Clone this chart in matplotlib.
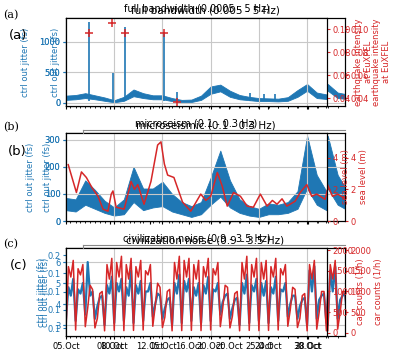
import numpy as np
import pandas as pd
import matplotlib
matplotlib.use("Agg")
import matplotlib.pyplot as plt
import matplotlib.dates as mdates
from matplotlib.lines import Line2D

W, H = 399, 358
BLUE = "#1f77b4"
RED = "#d62728"
start = pd.Timestamp("2017-10-05")

# ---------------- (a) full bandwidth ----------------
# daily envelope of ctrl out jitter (fs), 05.Oct .. 02.Nov
a_lo = [50, 60, 80, 60, 35, 10, 35, 110, 80, 60, 60, 30, 15, 15, 50,
        150, 190, 100, 60, 45, 30, 30, 25, 35, 100, 200, 80, 65, 70]
a_hi = [120, 130, 160, 125, 90, 45, 100, 220, 160, 125, 125, 80, 50, 55, 120,
        270, 300, 200, 130, 100, 80, 75, 70, 95, 210, 310, 170, 140, 150]
a_spike_day = [2.42, 4.9, 6.13, 10.15, 11.5, 19.1, 20.5, 21.7]
a_spike_fs = [1330, 490, 1250, 1160, 180, 170, 150, 140]
quake_day = [2.42, 4.75, 6.13, 10.15, 11.5]
quake_int = [0.0965, 0.106, 0.0965, 0.0965, 0.0365]

# ---------------- (b) microseism ----------------
b_lo = [40, 35, 60, 45, 30, 20, 25, 70, 40, 50, 55, 35, 25, 15, 25,
        60, 90, 50, 30, 20, 15, 25, 25, 30, 45, 120, 60, 40, 45]
b_hi = [85, 80, 150, 115, 75, 50, 80, 200, 120, 120, 145, 100, 70, 55, 70,
        160, 260, 150, 80, 55, 45, 65, 60, 70, 110, 315, 170, 110, 120]
sea_day = [0.23, 1.08, 1.6, 2.11, 2.7, 3.32, 3.84, 4.35, 4.69, 4.87, 5.2, 6.03,
           6.75, 7.1, 7.44, 8.09, 8.81, 9.5, 9.85, 10.2, 10.54, 11.19, 12.08,
           12.94, 13.97, 14.5, 15.0, 15.69, 16.2, 16.72, 17.37, 18.09, 18.78,
           19.43, 20.15, 20.85, 21.4, 21.88, 22.4, 22.9, 23.76, 24.28, 24.97,
           25.48, 26.0, 26.86, 27.3, 27.8, 28.3]
sea_m = [3.56, 1.8, 3.1, 2.75, 2.1, 1.56, 0.75, 0.62, 1.7, 1.9, 0.87, 0.75,
         2.5, 2.0, 2.3, 1.06, 2.5, 4.8, 5.0, 3.6, 2.9, 2.75, 1.2,
         0.62, 1.7, 1.3, 1.56, 3.06, 2.2, 0.94, 1.8, 1.56, 0.94,
         0.87, 1.7, 0.94, 1.3, 1.06, 1.4, 0.94, 1.25, 1.8, 2.3,
         1.56, 1.7, 1.37, 2.4, 1.5, 1.7]

# ---------------- (c) civilization noise ----------------
# 6-hourly samples per day: 00h, 06h, 12h, 18h
c_jitter = [
    [3.3, 4.8, 4.4, 5.2], [3.2, 4.7, 4.5, 5.0], [3.5, 6.0, 4.4, 4.6], [3.3, 3.9, 4.3, 4.4],
    [3.0, 4.9, 4.5, 5.3], [3.1, 5.0, 4.6, 5.2], [3.2, 4.8, 4.4, 5.6], [3.1, 4.9, 4.5, 5.1],
    [3.2, 4.6, 4.6, 5.0], [3.4, 4.0, 4.5, 4.4], [3.3, 3.8, 4.2, 4.3], [3.0, 5.0, 4.5, 5.4],
    [3.1, 5.1, 4.6, 5.2], [3.2, 4.8, 4.4, 5.0], [3.1, 4.9, 4.5, 5.3], [3.2, 4.7, 4.6, 5.0],
    [3.5, 4.1, 4.4, 4.5], [3.3, 3.8, 4.2, 4.3], [3.0, 5.0, 4.5, 5.4], [3.1, 4.9, 4.6, 5.2],
    [3.2, 5.0, 4.4, 5.1], [3.1, 4.8, 4.5, 5.3], [3.2, 4.7, 4.6, 5.0], [3.4, 4.0, 4.4, 4.4],
    [3.3, 3.9, 4.2, 4.3], [3.0, 5.6, 4.6, 5.8], [3.3, 4.2, 4.4, 4.5], [3.1, 5.0, 4.6, 5.7],
    [3.2, 4.8, 4.5, 5.2]]
c_cars = [
    [60, 1600, 1350, 1750], [70, 1550, 1400, 1650], [150, 600, 1150, 1050], [120, 350, 950, 1000],
    [50, 1650, 1300, 1800], [60, 1700, 1350, 1850], [55, 1650, 1300, 1800], [60, 1600, 1350, 1750],
    [70, 1500, 1400, 1650], [160, 650, 1200, 1100], [130, 380, 1000, 1050], [50, 1700, 1300, 1850],
    [55, 1750, 1350, 1800], [60, 1650, 1300, 1750], [55, 1600, 1350, 1800], [70, 1550, 1400, 1700],
    [150, 600, 1150, 1100], [120, 400, 950, 1000], [50, 1700, 1300, 1850], [60, 1650, 1350, 1800],
    [55, 1700, 1300, 1750], [60, 1600, 1350, 1800], [70, 1550, 1400, 1650], [160, 550, 1100, 1050],
    [130, 350, 900, 950], [50, 1650, 1300, 1750], [90, 500, 1000, 1000], [50, 1700, 1350, 1800],
    [60, 1600, 1350, 1700]]

# two overlapping renderings of the same figure
LAYERS = {
    "outer": dict(x=(66, 345), xlim=("2017-10-03 13:26", "2017-10-31 17:45"),
                  ticks=[8, 12, 16, 20, 24, 28]),
    "inner": dict(x=(66, 327), xlim=("2017-10-05 03:43", "2017-11-01 01:30"),
                  ticks=[5, 10, 15, 20, 25, 30]),
}
ROWS = {"a": (18, 106), "b": (133, 221), "c": (248, 336)}
TITLES = {
    "outer": {"a": "full bandwidth (0.005 - 5 Hz)", "b": "microseismic (0.1 - 0.3 Hz)",
              "c": "civilization noise (0.9 - 3.5 Hz)"},
    "inner": {"a": "full bandwidth (0.0005 - 5 Hz)", "b": "microseism (0.1 - 0.3 Hz)",
              "c": "civilization noise (0.9 - 3.5 Hz)"},
}
YLAB_X = {"outer": {"a": 30, "b": 35, "c": 46}, "inner": {"a": 60, "b": 52, "c": 50}}


def days(d):
    return start + pd.to_timedelta(np.asarray(d, dtype=float), unit="D")


def px_axes(fig, xs, ys):
    x0, x1 = xs
    y0, y1 = ys
    return fig.add_axes([x0 / W, 1 - y1 / H, (x1 - x0) / W, (y1 - y0) / H])


def panel_a(ax, tw):
    t = days(np.arange(len(a_lo)))
    ax.fill_between(t, a_lo, a_hi, color=BLUE, lw=0.6)
    ax.vlines(days(a_spike_day), 40, a_spike_fs, color=BLUE, lw=1.2)
    ax.set_ylim(-50, 1390)
    tw.plot(days(quake_day), quake_int, ls="none", marker="+", ms=6, mew=1.1, color=RED)
    tw.set_ylim(0.033, 0.110)
    tw.set_yticks([0.04, 0.06, 0.08, 0.10])
    tw.set_ylabel("earthquake intensity\nat EuXFEL", color=RED, fontsize=6, labelpad=2)


def panel_b(ax, tw):
    t = days(np.arange(len(b_lo)))
    ax.fill_between(t, b_lo, b_hi, color=BLUE, lw=0.6)
    ax.set_ylim(0, 325)
    ax.set_yticks([0, 100, 200, 300])
    tw.plot(days(sea_day), sea_m, color=RED, lw=1.1)
    tw.set_ylim(0, 5.56)
    tw.set_yticks([0, 2, 4])
    tw.set_ylabel("sea level (m)", color=RED, fontsize=6, labelpad=2)


def panel_c(ax, tw):
    t = days(np.arange(len(c_jitter) * 4) * 0.25)
    ax.plot(t, np.ravel(c_jitter), color=BLUE, lw=1.6)
    ax.set_ylim(2.48, 6.67)
    ax.set_yticks([3, 4, 5, 6])
    tw.plot(t, np.ravel(c_cars), color=RED, lw=1.1)
    tw.set_ylim(-75, 2050)
    tw.set_yticks([0, 500, 1000, 1500, 2000])
    tw.set_ylabel("car counts (1/h)", color=RED, fontsize=6, labelpad=2)


fig = plt.figure(figsize=(W / 100, H / 100), dpi=100)

for name, lay in LAYERS.items():
    for key, draw in (("a", panel_a), ("b", panel_b), ("c", panel_c)):
        ax = px_axes(fig, lay["x"], ROWS[key])
        tw = ax.twinx()
        draw(ax, tw)
        ax.set_xlim(pd.Timestamp(lay["xlim"][0]), pd.Timestamp(lay["xlim"][1]))
        ax.set_xticks([pd.Timestamp(2017, 10, d) for d in lay["ticks"]])
        ax.xaxis.set_minor_locator(mdates.DayLocator())
        ax.xaxis.set_major_formatter(mdates.DateFormatter("%d.%b"))
        ax.grid(True, color="#c8c8c8", lw=0.8)
        ax.tick_params(axis="y", colors=BLUE, labelsize=6, length=2.5, pad=1.5)
        ax.tick_params(axis="x", labelsize=6, length=2.5, pad=2,
                       labelbottom=(key == "c"))
        ax.tick_params(axis="x", which="minor", length=1.5)
        tw.tick_params(axis="y", colors=RED, labelsize=6, length=2.5, pad=1.5)
        for t in tw.get_yticklabels():
            t.set_color(RED)
        ax.set_ylabel("ctrl out jitter (fs)", color=BLUE, fontsize=6)
        x_px = YLAB_X[name][key]
        ax.yaxis.set_label_coords((x_px - lay["x"][0]) / (lay["x"][1] - lay["x"][0]), 0.5)
        if name == "outer" and key == "c":
            # second jitter scale seen on the left of the lower panel
            sec = ax.secondary_yaxis("left", functions=(lambda v: v * 0.023015 + 0.05424,
                                                         lambda v: (v - 0.05424) / 0.023015))
            sec.set_yticks([0.12, 0.14, 0.16, 0.18, 0.20])
            sec.set_yticklabels(["0.1", "0.1", "0.1", "0.1", "0.2"])
            sec.tick_params(colors=BLUE, labelsize=6, length=2.5, pad=1.5)
            ax.tick_params(axis="y", labelleft=False)
        ax.set_title(TITLES[name][key], fontsize=7.5 if name == "outer" else 7,
                     pad=3 if name == "outer" else 5)

# panel letters from both renderings
for key, (xs, ys, xb, yb) in {"a": (11, 15, 18, 35), "b": (11, 127, 17, 151),
                              "c": (11, 244, 19, 265)}.items():
    fig.text(xs / W, 1 - ys / H, "(%s)" % key, family="DejaVu Serif", fontsize=8,
             ha="center", va="center")
    fig.text(xb / W, 1 - yb / H, "(%s)" % key, fontsize=9.5, ha="center", va="center")

# thin grey brackets above panels (b) and (c)
for y in (130, 245):
    fig.add_artist(Line2D([83 / W, 345 / W], [1 - y / H, 1 - y / H], color="#888888", lw=0.8))
    fig.add_artist(Line2D([83 / W, 83 / W], [1 - y / H, 1 - (y + 3) / H], color="#888888", lw=0.8))

fig.savefig("out.png", dpi=100)
